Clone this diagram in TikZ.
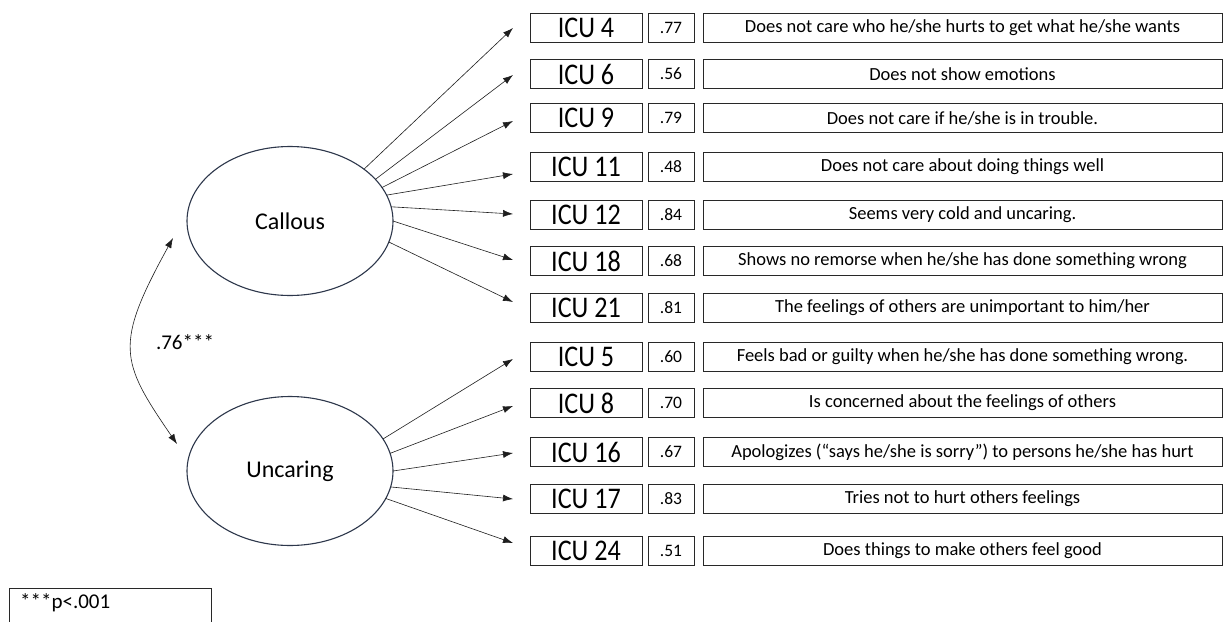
\documentclass[tikz,border=0pt]{standalone}
\usepackage{fontspec}
\setmainfont{Carlito}
\newfontfamily\icufont[FakeStretch=0.87]{Carlito}
\usetikzlibrary{arrows.meta,shapes.geometric}
\definecolor{boxline}{RGB}{40,40,40}
\definecolor{ellline}{RGB}{45,55,75}
\definecolor{arrline}{RGB}{30,30,30}
\begin{document}
\begin{tikzpicture}[x=1pt,y=-1pt,
  icubox/.style={draw=boxline, line width=1pt, minimum width=112pt, minimum height=29pt, inner sep=0pt, outer sep=0pt, font=\icufont\fontsize{30}{30}\selectfont},
  loadbox/.style={draw=boxline, line width=1pt, minimum width=46pt, minimum height=29pt, inner sep=0pt, outer sep=0pt, font=\fontsize{17.5}{17.5}\selectfont},
  descbox/.style={draw=boxline, line width=1pt, minimum width=519pt, minimum height=29pt, inner sep=0pt, outer sep=0pt, font=\fontsize{18.5}{18.5}\selectfont},
  latent/.style={ellipse, draw=ellline, line width=1.1pt, minimum width=206pt, minimum height=149pt, inner sep=0pt, outer sep=0pt, font=\fontsize{24}{24}\selectfont},
  ldarrow/.style={-{Latex[length=10pt,width=7pt]}, line width=0.6pt, draw=arrline},
  corarrow/.style={{Latex[length=10pt,width=7pt]}-{Latex[length=10pt,width=7pt]}, line width=0.6pt, draw=arrline}]
\useasboundingbox (0,0) rectangle (1225,621);
\clip (0,0) rectangle (1225,621);
\fill[white] (0,0) rectangle (1225,621);

\newcommand\icurow[5]{%
  \node[icubox] (i#1) at (586,#2) {ICU #1};
  \node[loadbox] (l#1) at (671,#2) {#3};
  \node[descbox] (d#1) at (962.5,#2) {#4};
  \coordinate (e#1) at (513,#5);
}
\icurow{4}{28}{.77}{Does not care who he/she hurts to get what he/she wants}{28}
\icurow{6}{74}{.56}{Does not show emotions}{75}
\icurow{9}{118}{.79}{Does not care if he/she is in trouble.}{121}
\icurow{11}{167}{.48}{Does not care about doing things well}{174}
\icurow{12}{215}{.84}{Seems very cold and uncaring.}{214}
\icurow{18}{261}{.68}{Shows no remorse when he/she has done something wrong}{260}
\icurow{21}{308}{.81}{The feelings of others are unimportant to him/her}{302}
\icurow{5}{357}{.60}{Feels bad or guilty when he/she has done something wrong.}{359}
\icurow{8}{403}{.70}{Is concerned about the feelings of others}{406}
\icurow{16}{452}{.67}{Apologizes (“says he/she is sorry”) to persons he/she has hurt}{453}
\icurow{17}{499}{.83}{Tries not to hurt others feelings}{499}
\icurow{24}{551}{.51}{Does things to make others feel good}{543}

\node[latent] (cal) at (290,221) {Callous};
\node[latent] (unc) at (290,471) {Uncaring};

\draw[ldarrow] (cal.35.6) -- (e4);
\draw[ldarrow] (cal.26.6) -- (e6);
\draw[ldarrow] (cal.20.6) -- (e9);
\draw[ldarrow] (cal.15.9) -- (e11);
\draw[ldarrow] (cal.8.9) -- (e12);
\draw[ldarrow] (cal.-0.5) -- (e18);
\draw[ldarrow] (cal.-12) -- (e21);

\draw[ldarrow] (unc.19.8) -- (e5);
\draw[ldarrow] (unc.10.5) -- (e8);
\draw[ldarrow] (unc.0.5) -- (e16);
\draw[ldarrow] (unc.-9.4) -- (e17);
\draw[ldarrow] (unc.-16.5) -- (e24);

\coordinate (ca) at (173,238);
\coordinate (ua) at (177,444);
\draw[corarrow] (ca) .. controls (114,345) and (120,361) .. (ua);
\node[font=\fontsize{21}{21}\selectfont] (cor) at (185,342) {.76***};

\draw[draw=boxline, line width=1pt] (9,588) rectangle (211,640);
\node[anchor=west, inner sep=0pt, font=\fontsize{21}{21}\selectfont] (pnote) at (20,603) {***p<.001};
\end{tikzpicture}
\end{document}
